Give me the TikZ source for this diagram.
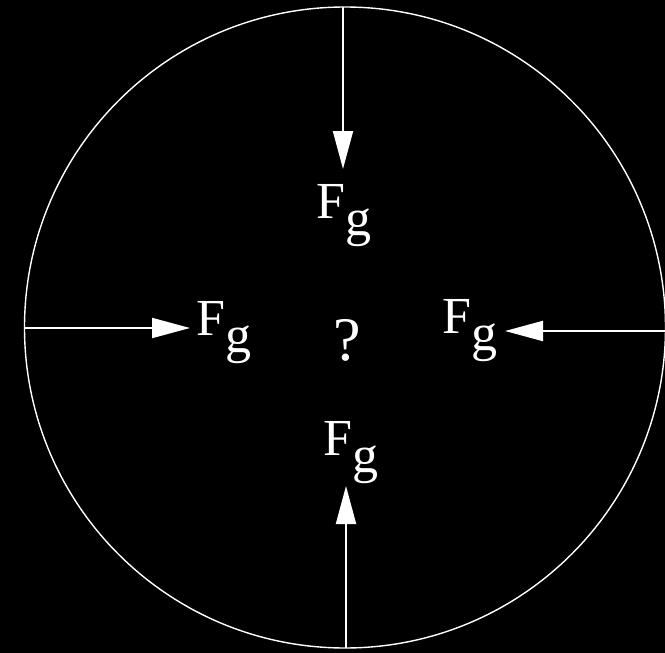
\documentclass[tikz,border=0pt]{standalone}
\usepackage{fontspec}
\setmainfont{Liberation Serif}
\usetikzlibrary{arrows.meta}
\begin{document}
\begin{tikzpicture}[x=1pt,y=-1pt,
  force/.style={white,line width=2pt,-{Triangle[length=38pt,width=20pt]}},
  lbl/.style={text=white,inner sep=0pt,anchor=base west,font=\fontsize{52}{52}\selectfont},
  qm/.style={text=white,inner sep=0pt,anchor=base west,font=\fontsize{62}{62}\selectfont}]
\fill[black] (0,0) rectangle (665,653);
\useasboundingbox (0,0) rectangle (665,653);
\draw[white,line width=1.4pt] (345,327.5) circle[radius=320.5pt];
% arrow end points
\coordinate (tS) at (343,7);   \coordinate (tT) at (343,169);
\coordinate (bS) at (346,648); \coordinate (bT) at (346,486);
\coordinate (lS) at (25,328);  \coordinate (lT) at (190,328);
\coordinate (rS) at (666,331); \coordinate (rT) at (505,331);
\draw[force] (tS) -- (tT);
\draw[force] (bS) -- (bT);
\draw[force] (lS) -- (lT);
\draw[force] (rS) -- (rT);
% labels
\node[lbl] (ftop) at (316,218) {F\lower17pt\hbox{g}};
\node[lbl] (fleft) at (196,335) {F\lower17pt\hbox{g}};
\node[lbl] (fright) at (442,333) {F\lower17pt\hbox{g}};
\node[lbl] (fbot) at (323,455) {F\lower17pt\hbox{g}};
\node[qm] (q) at (333,360) {?};
\end{tikzpicture}
\end{document}
